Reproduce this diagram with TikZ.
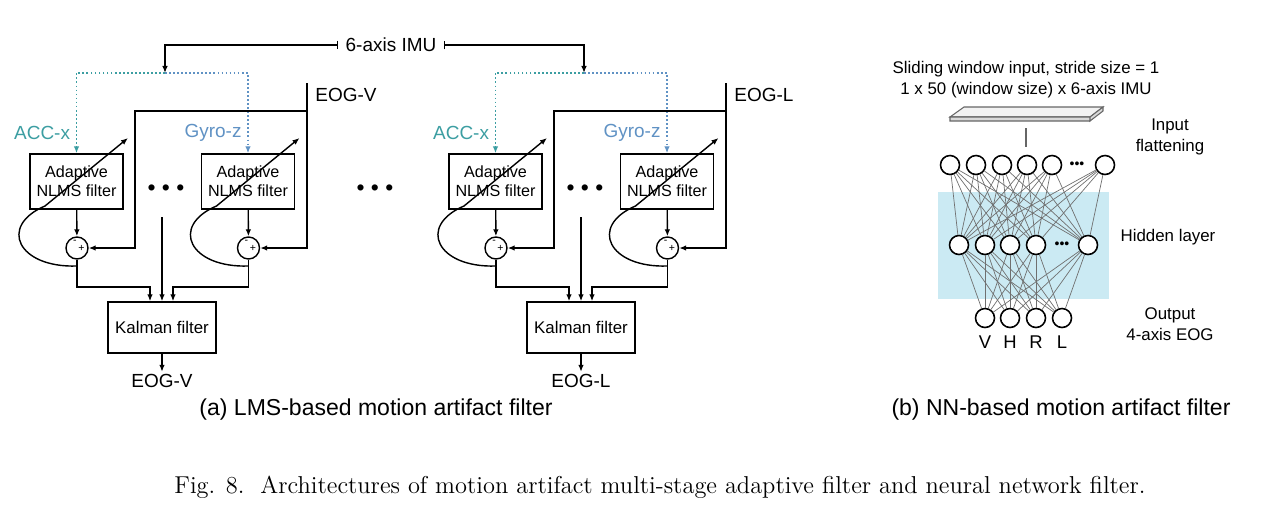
\documentclass[tikz,border=0pt]{standalone}
\usepackage{fontspec}
\newfontfamily\diagfont{Liberation Sans}
\usepackage{tikz}
\usetikzlibrary{arrows.meta,positioning,calc}
\definecolor{accteal}{RGB}{60,158,162}
\definecolor{gyroblue}{RGB}{96,146,196}
\definecolor{hiddenbg}{RGB}{203,234,243}

\begin{document}
\begin{tikzpicture}[
  x=0.02cm, y=-0.02cm,
  line width=0.8pt,
  >={Latex[length=4pt,width=3.2pt]},
  nlmsbox/.style={draw,minimum width=1.86cm,minimum height=1.1cm,align=center,
                  inner sep=1pt,font=\diagfont\fontsize{9.2}{10.8}\selectfont},
  kalbox/.style={draw,minimum width=2.16cm,minimum height=1.02cm,
                 font=\diagfont\fontsize{9.6}{11}\selectfont},
  sumnode/.style={circle,draw,minimum size=0.44cm,inner sep=0pt},
  sign/.style={inner sep=0pt,font=\diagfont\fontsize{6}{6}\selectfont},
  lbl/.style={inner sep=1pt,font=\diagfont\fontsize{10.8}{13}\selectfont},
  nntext/.style={align=center,inner sep=0pt,font=\diagfont\fontsize{9.6}{12}\selectfont},
  neuron/.style={circle,draw,fill=white,line width=0.9pt,minimum size=0.38cm,inner sep=0pt},
  nnedge/.style={draw=gray!60!black!80,line width=0.4pt},
  dotrow/.style={inner sep=0pt,font=\diagfont\fontsize{13}{13}\selectfont},
  caption/.style={inner sep=0pt,font=\diagfont\fontsize{13.1}{15}\selectfont}
]
  \useasboundingbox (0,0) rectangle (1288,514);

  % (a) LMS-based filter
  \node[lbl,inner xsep=4pt] (imu) at (391,45) {6-axis IMU};

  \foreach \g/\dx/\eog in {V/0/EOG-V,L/419/EOG-L}{
  \begin{scope}[xshift=\dx*0.02cm]
    \coordinate (imuin\g)  at (165,73);
    \coordinate (eogtop\g) at (307,83);
    \coordinate (tap\g)    at (307,111);
    \coordinate (bend\g)   at (135,111);
    \coordinate (mid\g)    at (162,217);
    \coordinate (ka\g)     at (150,287);
    \coordinate (kb\g)     at (173,287);

    \node[lbl,anchor=west] (eogin\g) at (313,95) {\eog};
    \node[dotrow] (dots\g) at (166,190) {•~•~•};
    \node[kalbox] (kal\g) at (162,327.5) {Kalman filter};
    \node[lbl] (out\g) at (162,381) {\eog};

    % one adaptive branch per IMU axis
    \foreach \s/\sx/\ax/\col in {a/0/ACC-x/accteal,b/171.5/Gyro-z/gyroblue}{
    \begin{scope}[xshift=\sx*0.02cm]
      \node[nlmsbox] (nlms\s\g) at (76.5,181.5) {Adaptive\\NLMS filter};
      \node[sumnode] (sum\s\g) at (77,248) {};
      \node[sign] (minus\s\g) at (75,242) {-};
      \node[sign] (plus\s\g) at (81.5,248.5) {+};
      \node[lbl,anchor=east,text=\col] (axis\s\g) at (72.5,133) {\ax};
      \coordinate (err\s\g)   at (77,266);
      \coordinate (adapt\s\g) at (128,138);

      \draw[->,\col,line width=0.9pt,dash pattern=on 1pt off 1.3pt]
        (imuin\g) -| (nlms\s\g.north);
      \draw[->] (nlms\s\g) -- (sum\s\g);
      \draw[->] (err\s\g) .. controls (18,268) and (-2,226) .. (45,206)
        -- (adapt\s\g);
    \end{scope}}

    \draw[->] (eogtop\g) |- (sumb\g.east);
    \draw[->] (tap\g) -- (bend\g) |- (suma\g.east);
    \draw[->] (suma\g) |- (ka\g) -- (ka\g |- kal\g.north);
    \draw[->] (sumb\g) |- (kb\g) -- (kb\g |- kal\g.north);
    \draw[->] (mid\g) -- (kal\g);
    \draw[->] (kal\g) -- (out\g);
  \end{scope}}

  \draw[{Bar[width=5pt]}->] (imu.west) -| (imuinV);
  \draw[{Bar[width=5pt]}->] (imu.east) -| (imuinL);
  \node[dotrow] (dotsmid) at (375,190) {•~•~•};

  % (b) NN-based filter
  \fill[hiddenbg] (938,192) rectangle (1109,299);
  \filldraw[draw=gray!80!black,fill=gray!10,line width=0.6pt]
    (950,117) -- (964,107) -- (1103,107) -- (1090,117) -- cycle;
  \filldraw[draw=gray!80!black,fill=gray!30,line width=0.6pt]
    (950,117) -- (1090,117) -- (1090,121) -- (950,121) -- cycle
    (1090,117) -- (1103,107) -- (1103,111) -- (1090,121) -- cycle;
  \coordinate (slabbot) at (1026,128);
  \coordinate (flattop) at (1026,147);
  \draw[gray!80!black] (slabbot) -- (flattop);

  \node[nntext] (slide) at (1026,79.5)
    {Sliding window input, stride size = 1\\1 x 50 (window size) x 6-axis IMU};

  \foreach \i/\x in {1/950,2/976,3/1002,4/1027,5/1052,6/1105}
    \node[neuron] (in\i) at (\x,165) {};
  \foreach \i/\x in {1/959,2/985,3/1010,4/1036,5/1088}
    \node[neuron] (hid\i) at (\x,245) {};
  \foreach \i/\x/\o in {1/985/V,2/1010/H,3/1036/R,4/1062/L}{
    \node[neuron] (out\i) at (\x,318) {};
    \node[nntext,font=\diagfont\fontsize{10.5}{12}\selectfont] (outlbl\i) at (\x,342) {\o};
  }
  \node[dotrow,font=\diagfont\fontsize{8}{8}\selectfont] (indots) at (1077,165) {•••};
  \node[dotrow,font=\diagfont\fontsize{8}{8}\selectfont] (hiddots) at (1062,245) {•••};

  \foreach \a in {1,...,6}
    \foreach \b in {1,...,5}
      \draw[nnedge] (in\a) -- (hid\b);
  \foreach \a in {1,...,5}
    \foreach \b in {1,...,4}
      \draw[nnedge] (hid\a) -- (out\b);

  \node[nntext] (inlbl) at (1170,137) {Input\\flattening};
  \node[nntext] (hidlbl) at (1168,237) {Hidden layer};
  \node[nntext] (outlbl) at (1170,324.5) {Output\\4-axis EOG};

  % captions
  \node[caption] (capa) at (376,410) {(a) LMS-based motion artifact filter};
  \node[caption] (capb) at (1061,410) {(b) NN-based motion artifact filter};
  \node[inner sep=0pt,font=\fontsize{13.9}{16}\selectfont] (fig) at (660,487)
    {Fig. 8.\ \ Architectures of motion artifact multi-stage adaptive filter and neural network filter.};
\end{tikzpicture}
\end{document}
